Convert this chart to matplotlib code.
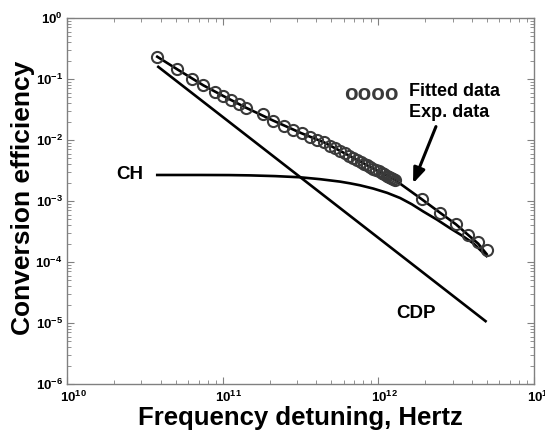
import matplotlib
matplotlib.use("Agg")
import matplotlib.pyplot as plt
from matplotlib.ticker import LogLocator, NullFormatter
import matplotlib.transforms as mtransforms

plt.rcParams['font.family'] = ['Liberation Sans', 'DejaVu Sans']
plt.rcParams['font.weight'] = 'bold'
plt.rcParams['mathtext.fontset'] = 'custom'
plt.rcParams['mathtext.rm'] = 'Liberation Sans:bold'
plt.rcParams['mathtext.bf'] = 'Liberation Sans:bold'
plt.rcParams['mathtext.it'] = 'Liberation Sans:bold'
plt.rcParams['mathtext.default'] = 'bf'

# Experimental data (circles)
exp_freq = [3.80e10, 5.11e10, 6.32e10, 7.51e10, 8.92e10, 1.01e11, 1.13e11, 1.27e11, 1.41e11,
            1.81e11, 2.12e11, 2.48e11, 2.84e11, 3.21e11, 3.64e11, 4.05e11, 4.47e11,
            4.9e11, 5.3e11, 5.7e11, 6.1e11, 6.5e11, 6.9e11, 7.3e11, 7.7e11, 8.1e11, 8.5e11,
            8.9e11, 9.3e11, 9.7e11, 1.01e12, 1.05e12, 1.09e12, 1.13e12, 1.17e12, 1.21e12,
            1.25e12, 1.28e12,
            1.90e12, 2.49e12, 3.15e12, 3.78e12, 4.38e12, 4.96e12]
exp_eff = [0.232, 0.144, 0.0989, 0.0788, 0.0619, 0.0526, 0.0453, 0.0389, 0.0339,
           0.0267, 0.0207, 0.0170, 0.0146, 0.0129, 0.0113, 0.0100, 0.00917,
           8.11e-3, 7.29e-3, 6.61e-3, 6.03e-3, 5.52e-3, 5.09e-3, 4.73e-3, 4.40e-3, 4.11e-3, 3.85e-3,
           3.61e-3, 3.41e-3, 3.21e-3, 3.05e-3, 2.89e-3, 2.75e-3, 2.61e-3, 2.49e-3, 2.38e-3,
           2.28e-3, 2.21e-3,
           1.07e-3, 6.43e-4, 4.15e-4, 2.77e-4, 2.15e-4, 1.57e-4]

# Fitted curve
fit_freq = [3.80e10, 5.11e10, 7.51e10, 1.01e11, 1.41e11, 2.12e11, 3.21e11, 4.47e11, 7.3e11,
            1.28e12, 1.90e12, 2.49e12, 3.15e12, 3.78e12, 4.38e12, 4.96e12]
fit_eff = [0.232, 0.144, 0.0788, 0.0526, 0.0339, 0.0207, 0.0129, 0.00917, 4.73e-3,
           2.21e-3, 1.07e-3, 6.43e-4, 4.15e-4, 2.77e-4, 2.00e-4, 1.35e-4]

# CH contribution
ch_freq = [3.80e10, 7.15e10, 1.10e11, 1.50e11, 2.17e11, 3.13e11, 4.22e11, 5.66e11, 6.57e11, 7.62e11,
           9.27e11, 1.14e12, 1.38e12, 1.64e12, 1.94e12, 2.38e12, 2.88e12, 3.44e12, 4.07e12, 4.96e12]
ch_eff = [2.67e-3, 2.67e-3, 2.66e-3, 2.63e-3, 2.56e-3, 2.45e-3, 2.28e-3, 2.08e-3, 1.95e-3, 1.81e-3,
          1.60e-3, 1.36e-3, 1.12e-3, 8.85e-4, 6.75e-4, 4.95e-4, 3.60e-4, 2.72e-4, 2.03e-4, 1.25e-4]

# CDP contribution
cdp_freq = [3.80e10, 4.96e12]
cdp_eff = [0.163, 1.04e-5]

fig = plt.figure(figsize=(5.45, 4.36), dpi=100)
W, H = 545, 436
ax = fig.add_axes([67 / W, 1 - 384 / H, (534 - 67) / W, (384 - 18) / H])
ax.set_xscale('log')
ax.set_yscale('log')
ax.set_xlim(1e10, 1e13)
ax.set_ylim(1e-6, 1)

ax.plot(cdp_freq, cdp_eff, color='black', lw=1.9, solid_capstyle='butt')
ax.plot(ch_freq, ch_eff, color='black', lw=1.9, solid_joinstyle='round')
ax.plot(fit_freq, fit_eff, color='black', lw=1.9, solid_joinstyle='round')
ax.plot(exp_freq, exp_eff, linestyle='none', marker='o', markersize=8,
        markerfacecolor='none', markeredgecolor='#3a3a3a', markeredgewidth=1.5)

for s in ax.spines.values():
    s.set_color('#808080')
    s.set_linewidth(1.0)

ax.xaxis.set_major_locator(LogLocator(base=10, numticks=10))
ax.yaxis.set_major_locator(LogLocator(base=10, numticks=10))
ax.xaxis.set_minor_locator(LogLocator(base=10, subs=range(2, 10), numticks=20))
ax.yaxis.set_minor_locator(LogLocator(base=10, subs=range(2, 10), numticks=20))
ax.xaxis.set_minor_formatter(NullFormatter())
ax.yaxis.set_minor_formatter(NullFormatter())
ax.tick_params(which='both', direction='in', top=True, right=True, color='#808080')
ax.tick_params(which='major', length=5, width=0.8, labelsize=9.5, pad=4)
ax.tick_params(which='minor', length=3, width=0.6)
ax.tick_params(axis='y', pad=3)

offset = mtransforms.ScaledTranslation(6 / 100, 0, fig.dpi_scale_trans)
for lab in ax.get_xticklabels():
    lab.set_transform(lab.get_transform() + offset)

ax.set_xlabel('Frequency detuning, Hertz', fontsize=18.5, fontweight='bold', labelpad=1)
ax.set_ylabel('Conversion efficiency', fontsize=19, fontweight='bold')
ax.yaxis.set_label_coords(-(67 - 35) / 467, 0.5 + (201 - 198) / 366)

def axf(px, py):
    return ((px - 67) / 467, (384 - py) / 366)

ax.text(*axf(130, 174), 'CH', transform=ax.transAxes, fontsize=13.5, fontweight='bold',
        ha='center', va='center')
ax.text(*axf(416, 313), 'CDP', transform=ax.transAxes, fontsize=13.5, fontweight='bold',
        ha='center', va='center')
ax.text(*axf(371, 94), 'oooo', transform=ax.transAxes, fontsize=16, fontweight='bold',
        ha='center', va='center', color='#3a3a3a')
ax.text(*axf(409, 91), 'Fitted data', transform=ax.transAxes, fontsize=13, fontweight='bold',
        ha='left', va='center')
ax.text(*axf(409, 112), 'Exp. data', transform=ax.transAxes, fontsize=13, fontweight='bold',
        ha='left', va='center')
ax.annotate('', xy=axf(412, 186), xytext=axf(437, 124), xycoords='axes fraction',
            textcoords='axes fraction',
            arrowprops=dict(arrowstyle='-|>,head_length=0.9,head_width=0.35', color='black', lw=2.2))

fig.savefig('out.png', dpi=100)
